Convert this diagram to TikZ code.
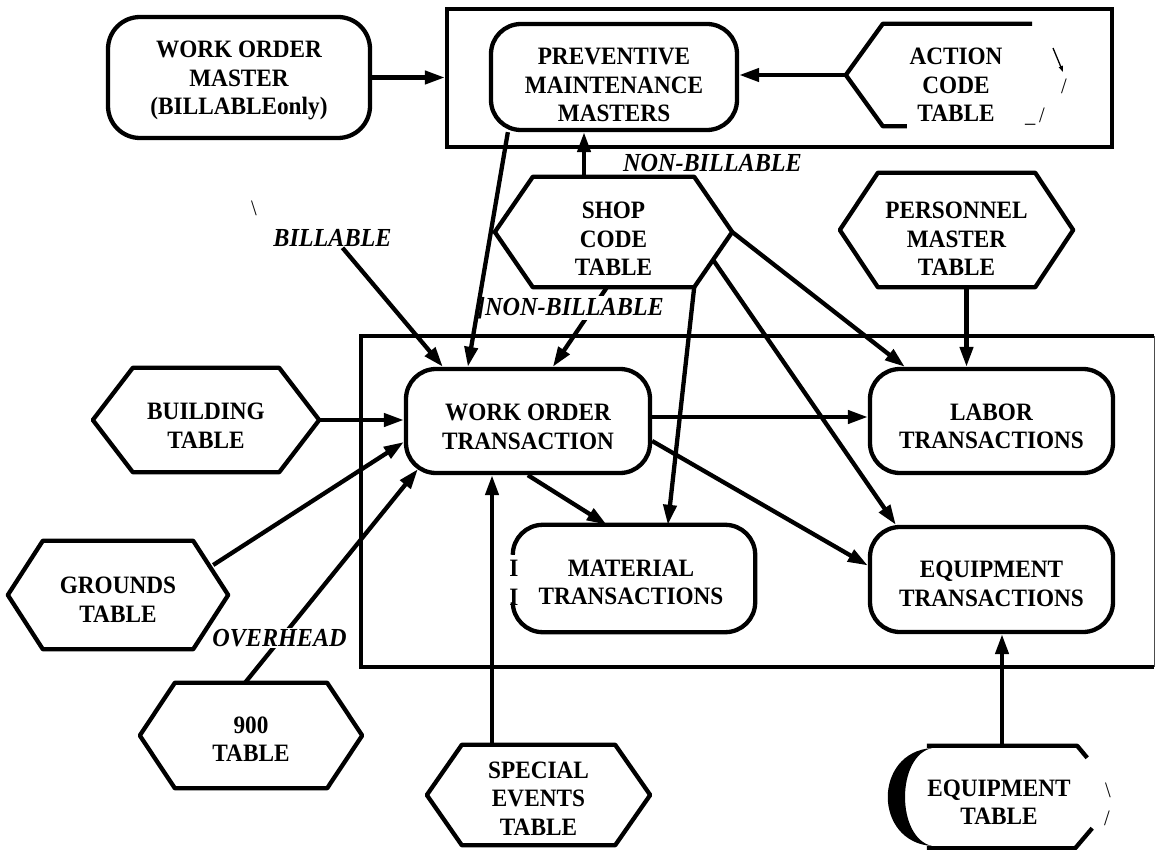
\documentclass[tikz,border=0pt]{standalone}
\usepackage{fontspec}
\setmainfont{Liberation Serif}[FakeStretch=0.93]
\usetikzlibrary{arrows.meta,calc}

\tikzset{
  lw/.style={line width=4.3pt},
  rbox/.style={draw, lw, rounded corners=30pt, inner sep=0pt, rectangle},
  ghost/.style={inner sep=0pt, rectangle},
  txt/.style={font=\fontsize{25}{28.5}\selectfont\bfseries, align=center, inner sep=0pt},
  tag/.style={font=\fontsize{26}{28}\selectfont\bfseries\itshape, inner sep=1pt},
  scrap/.style={font=\fontsize{22}{24}\selectfont, inner sep=0pt},
  flow/.style={lw, -{Triangle[length=20pt,width=13pt]}},
  shapeline/.style={lw, line join=round},
}

% hexagon outline around a rectangular node: #1 node name, #2 chamfer width
\newcommand{\hexpath}[2]{%
  \draw[shapeline] ([xshift=#2]#1.north west) -- ([xshift=-#2]#1.north east) -- (#1.east)
    -- ([xshift=-#2]#1.south east) -- ([xshift=#2]#1.south west) -- (#1.west) -- cycle;}

\begin{document}
\begin{tikzpicture}[x=1pt,y=-1pt]
\useasboundingbox (0,0) rectangle (1156,850);

% ---------- frames ----------
\node[draw, lw, ghost, minimum width=665pt, minimum height=138pt] (upper) at (779.5,78) {};
\node[ghost, minimum width=793pt, minimum height=331pt] (lower) at (757.5,501.5) {};
\draw[lw] (lower.north east) -- (lower.north west) -- (lower.south west) -- (lower.south east);
\draw[line width=1.2pt, black!70] (lower.north east) -- (lower.south east);

% ---------- rounded boxes ----------
\node[rbox, rounded corners=32pt, minimum width=262pt, minimum height=121pt,
      label={[txt,yshift=-3pt]center:{WORK ORDER\\MASTER\\(BILLABLEonly)}}] (wom) at (239,77.5) {};
\node[rbox, minimum width=246pt, minimum height=106pt,
      label={[txt,yshift=-8pt]center:{PREVENTIVE\\MAINTENANCE\\MASTERS}}] (pmm) at (614,77) {};
\node[rbox, minimum width=244pt, minimum height=104pt,
      label={[txt,yshift=-6pt]center:{WORK ORDER\\TRANSACTION}}] (wot) at (528,421) {};
\node[rbox, minimum width=243pt, minimum height=104pt,
      label={[txt,yshift=-5.5pt]center:{LABOR\\TRANSACTIONS}}] (labor) at (991.5,421) {};
\node[rbox, minimum width=243pt, minimum height=105pt,
      label={[txt,yshift=-4.5pt]center:{EQUIPMENT\\TRANSACTIONS}}] (eqt) at (991.5,579.5) {};

% material box, its left side broken
\node[ghost, minimum width=242pt, minimum height=107pt,
      label={[txt,xshift=-3pt,yshift=-4pt]center:{MATERIAL\\TRANSACTIONS}}] (mat) at (634,578.5) {};
\draw[lw, rounded corners=30pt] ([yshift=-30pt]mat.north west) -- (mat.north west) -- (mat.north east)
  -- (mat.south east) -- (mat.south west) -- ([yshift=30pt]mat.south west);
\node[txt] (bar1) at (514,568) {I};
\node[txt] (bar2) at (514,597) {I};

% ---------- hexagonal tables ----------
\node[ghost, minimum width=237pt, minimum height=110pt,
      label={[txt,yshift=-7pt]center:{SHOP\\CODE\\TABLE}}] (shop) at (613.5,232) {};
\hexpath{shop}{38}
\node[ghost, minimum width=233pt, minimum height=114pt,
      label={[txt,yshift=-9pt]center:{PERSONNEL\\MASTER\\TABLE}}] (pers) at (956.5,230) {};
\hexpath{pers}{38}
\node[ghost, minimum width=226pt, minimum height=104pt,
      label={[txt,yshift=-6pt]center:{BUILDING\\TABLE}}] (bldg) at (206,420) {};
\hexpath{bldg}{40}
\node[ghost, minimum width=220pt, minimum height=108pt,
      label={[txt,yshift=-5pt]center:{GROUNDS\\TABLE}}] (grnd) at (118,595) {};
\hexpath{grnd}{35}
\node[ghost, minimum width=222pt, minimum height=105pt,
      label={[txt,yshift=-3.5pt]center:{900\\TABLE}}] (t900) at (251,735.5) {};
\hexpath{t900}{35}
\node[ghost, minimum width=223pt, minimum height=100pt,
      label={[txt,yshift=-3.5pt]center:{SPECIAL\\EVENTS\\TABLE}}] (sev) at (538.5,795) {};
\hexpath{sev}{35}

% action code table, open on the right
\node[ghost, minimum width=220pt, minimum height=102pt,
      label={[txt,yshift=-10pt]center:{ACTION\\CODE\\TABLE}}] (act) at (956,75) {};
\draw[shapeline] ([xshift=-34pt]act.north east) -- ([xshift=37pt]act.north west) -- (act.west)
  -- ([xshift=37pt]act.south west) -- ([xshift=61pt]act.south west);
\draw[line width=1.3pt, -{Triangle[length=6pt,width=4pt]}] (1053,48) -- (1063,72);
\node[scrap] (actr1) at (1064,86) {/};
\node[scrap] (actr2) at (1035,117) {\_\,/};

% equipment table
\node[ghost, minimum width=150pt, minimum height=102pt,
      label={[txt,xshift=-3pt,yshift=-5.5pt]center:{EQUIPMENT\\TABLE}}] (eqtab) at (1002,797) {};
\draw[shapeline] (eqtab.north west) -- (eqtab.north east) -- ([xshift=10pt,yshift=-12pt]eqtab.north east);
\draw[shapeline] (eqtab.south west) -- ([xshift=-2pt]eqtab.south east) -- ([xshift=15pt,yshift=20pt]eqtab.south east);
\fill (932,748) .. controls (873,752) and (873,842) .. (932,846)
      .. controls (896,838) and (896,756) .. (932,748) -- cycle;
\node[scrap] (eqr1) at (1108,790) {\textbackslash};
\node[scrap] (eqr2) at (1107,818) {/};

% ---------- connectors ----------
\draw[flow] (wom.east) -- (wom.east -| upper.west);
\draw[flow] (act.west) -- (act.west -| pmm.east);
\draw[flow] ([xshift=-29.5pt]shop.north) -- ([xshift=-29.5pt]shop.north |- pmm.south);

\node[tag] (billable) at (332.5,238) {BILLABLE};
\node[scrap] (tick) at (254,208) {\textbackslash};
\node[tag] (nb1) at (712.5,163) {NON-BILLABLE};

\draw[flow] ([xshift=10pt]billable.south) -- ([xshift=39pt]wot.north west);
\draw[flow] ([xshift=-6.5pt]shop.south) -- ([xshift=149pt]wot.north west);
\draw[flow] (bldg.east) -- (bldg.east -| wot.west);
\draw[flow] ([xshift=-15pt,yshift=30pt]grnd.east) -- ([yshift=-21pt]wot.west);
\draw[flow] ([xshift=-6pt]t900.north) -- ([xshift=14pt,yshift=6pt]wot.south west);
\draw[flow] ([xshift=-46.5pt]sev.north) -- ([xshift=-46.5pt]sev.north |- wot.south);
\draw[flow] ([xshift=124pt]wot.south west) -- ([xshift=94pt]mat.north west);
\draw[flow] ([xshift=-38pt]shop.south east) -- ([xshift=155pt]mat.north west);
\draw[flow] ([yshift=4pt]wot.east) -- ([yshift=4pt]wot.east -| labor.west);
\draw[flow] ([yshift=-20pt]wot.east) -- ([yshift=14pt]eqt.west);
\draw[flow] ([xshift=-19pt,yshift=-28pt]shop.east) -- ([xshift=28pt]eqt.north west);
\draw[flow] (shop.east) -- ([xshift=37pt]labor.north west);
\draw[flow] ([xshift=10pt]pers.south) -- ([xshift=10pt]pers.south |- labor.north);
\draw[flow] (eqtab.north) -- (eqtab.north |- eqt.south);

% labels sitting on their lines
\node[tag, fill=white] (nb2) at (570.5,308) {]NON-BILLABLE};
\node[tag, fill=white] (ovh) at (279.5,638) {OVERHEAD};

\draw[flow] ([xshift=19pt]pmm.south west) -- ([xshift=64pt]wot.north west);
\end{tikzpicture}
\end{document}
